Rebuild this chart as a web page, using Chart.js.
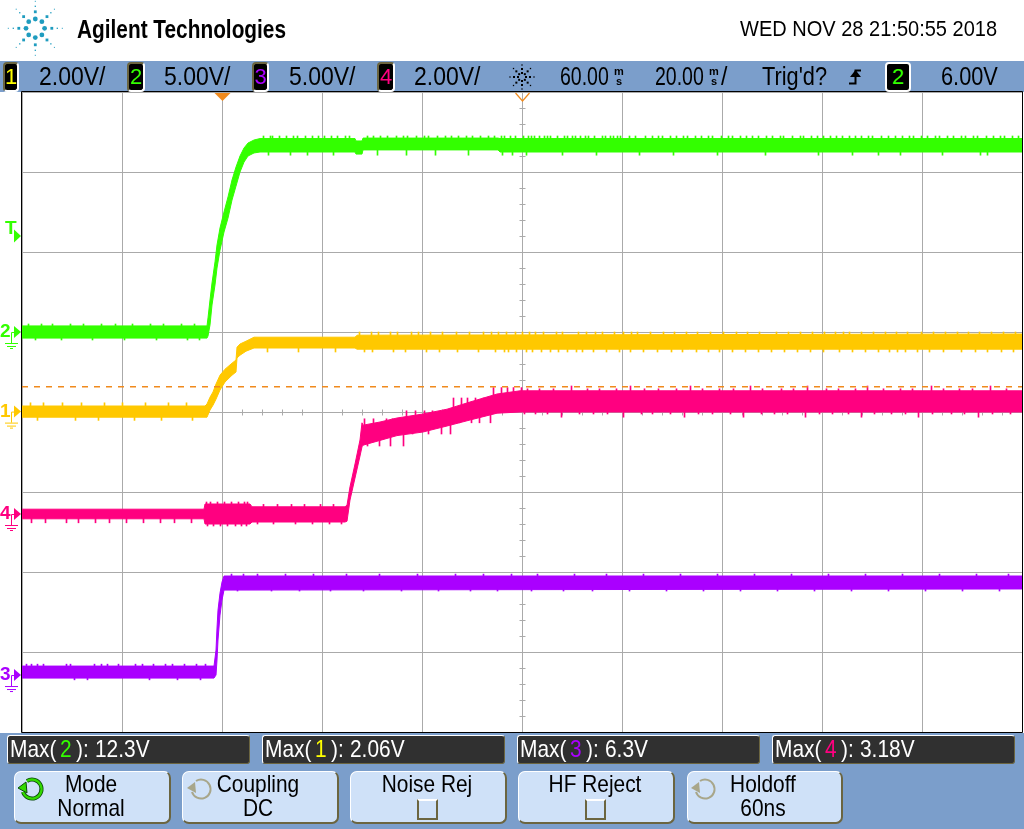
<!DOCTYPE html>
<html>
<head>
<meta charset="utf-8">
<title>Agilent scope capture</title>
<script src="https://cdn.jsdelivr.net/npm/chart.js@4"></script>
<style>
html, body { margin: 0; padding: 0; background: #fff; overflow: hidden; }
#page { position: relative; width: 1024px; height: 829px; overflow: hidden; font-family: "Liberation Sans", sans-serif; color: #000; }
.band { position: absolute; left: 0; width: 1024px; background: #7b9ecb; }
.txt { position: absolute; white-space: nowrap; line-height: 1; transform-origin: 0 50%; }
.chip { position: absolute; top: 62px; height: 26px; background: #000; border: 2px solid #fff; border-top-color: #6b6540; border-left-color: #6b6540; border-radius: 4px; text-align: center; font-size: 22px; line-height: 26px; }
.meas { position: absolute; top: 735px; height: 27px; background: #303030; border: 1px solid #fff; border-right-color: #6b6540; border-bottom-color: #6b6540; border-radius: 3px; }
.key { position: absolute; top: 771px; height: 50px; background: #cfe1f8; border: 1px solid #fff; border-right: 2px solid #6b6540; border-bottom: 2px solid #6b6540; border-radius: 7px; }
.box { position: absolute; top: 799px; width: 17px; height: 17px; border: 2px solid #6b6540; border-top-color: #fff; }
canvas { position: absolute; left: 0; top: 0; }
svg { position: absolute; overflow: visible; }
</style>
</head>
<body>
<div id="page">
<div class="band" style="top:61px;height:31px"></div>
<div class="band" style="top:733px;height:96px"></div>
<canvas id="scope" width="1024" height="829"></canvas>
</div>
<script>
// channel colours and settings
var ch1Color = "#ffc800", ch2Color = "#33ff00", ch3Color = "#aa00ff", ch4Color = "#ff0080";
var orange = "#f08a1d";
var timeMin = -40, timeMax = 160, timeDiv = 20;
var ch1Range = [-8.01, 7.99], ch2Range = [-25, 15], ch3Range = [-3.56, 36.44], ch4Range = [-5.45, 10.55];
var triggerLevel = 6.00, ch4MaxCursor = 3.18;

// envelope of each trace, ms and volts
var ch2Time = [-40,-3.0,-2.8,-2.4,-2.0,-1.4,-1.0,-0.4,0.4,1.2,2.0,2.8,3.6,4.4,5.2,6.4,7.6,26.6,26.8,28.0,28.2,55.2,55.6,160];
var ch2High = [0.38,0.38,0.88,2.0,3.06,4.38,5.44,6.5,7.5,8.44,9.5,10.31,11.0,11.5,11.81,12.0,12.09,12.09,11.94,11.94,12.12,12.12,12.09,12.09];
var ch2Low = [-0.38,-0.38,-0.25,0.44,1.69,2.94,4.0,5.12,6.25,7.12,8.25,9.12,10.0,10.62,11.0,11.19,11.25,11.25,11.12,11.12,11.38,11.38,11.25,11.25];

var ch1Time = [-40,-3.4,-3.0,-2.4,-1.8,-1.2,-0.4,0.6,2.0,2.8,3.0,3.6,4.8,6.4,26.6,27.0,160];
var ch1High = [0.14,0.14,0.19,0.36,0.49,0.69,0.91,1.06,1.21,1.29,1.61,1.69,1.76,1.86,1.86,1.91,1.94];
var ch1Low = [-0.14,-0.14,-0.14,0.04,0.16,0.31,0.54,0.74,0.91,0.99,1.34,1.41,1.51,1.59,1.59,1.56,1.56];

var ch4Time = [-40,-3.6,-3.4,5.6,6,24.6,25,25.6,26.6,27.6,28,28.2,31.6,35,40.2,45,49.6,55,59.6,160];
var ch4High = [0.12,0.12,0.25,0.25,0.18,0.18,0.22,0.68,1.25,1.85,2.28,2.22,2.3,2.4,2.5,2.62,2.8,3.0,3.08,3.08];
var ch4Low = [-0.12,-0.12,-0.25,-0.25,-0.2,-0.2,-0.18,0.35,0.9,1.45,1.68,1.72,1.84,1.96,2.05,2.2,2.35,2.52,2.55,2.55];

var ch3Time = [-40,-1.6,-1.2,-1.0,-0.8,-0.4,0,0.4,160];
var ch3High = [0.56,0.56,1.56,2.94,4.06,5.12,5.81,6.19,6.19];
var ch3Low = [-0.19,-0.19,0,0.94,2.19,3.75,4.69,5.31,5.38];

// noise spikes: [tip volts, [times in ms]]
var ch2Spikes = [
  [0.5, [-38.7,-36.1,-33.9,-30.3,-27.7,-24.1,-21.3,-17.9,-14.3,-11.7,-8.1,-5.5]],
  [-0.5, [-37.3,-32.1,-25.9,-19.5,-13.1,-6.9,-4.5]],
  [12.25, [8.3,9.7,10.1,11.5,12.9,14.3,15.1,16.7,18.1,19.3,20.5,21.9,23.1,24.7,25.5,29.1,30.3,31.7,33.1,34.9,36.3,37.1,38.9,40.5,41.3,43.1,44.7,45.9,47.3,48.9,50.1,51.7,53.3,54.5,55.9,56.5,57.7,58.7,60.3,61.3,61.9,62.5,63.5,64.5,65.1,65.7,67.1,68.5,69.1,70.1,70.7,71.7,72.7,73.3,74.5,76.1,76.7,77.7,78.3,79.1,79.7,81.5,82.7,84.7,86.1,87.3,88.1,89.7,90.9,92.3,93.1,94.7,95.9,97.3,98.1,99.9,101.3,102.1,103.7,104.9,106.1,107.3,108.9,110.1,111.7,112.3,114.1,115.7,116.3,117.9,119.1,120.3,121.7,122.9,124.1,125.5,126.7,127.9,129.3,130.1,131.9,133.3,134.7,136.1,137.5,138.3,139.9,141.1,142.7,143.5,145.1,146.3,147.9,148.7,150.3,151.1,152.9,154.3,155.7,156.5,158.1,159.3]],
  [11.05, [9.3,13.7,17.1,22.3,31.1,36.9,42.7,49.3,56.1,58.1,60.9,68.1,74.9,83.5,90.3,99.1,108.7,119.3,126.1,131.3,135.7,144.1,151.7,153.1]]
];
var ch1Spikes = [
  [0.22, [-38.3,-35.7,-31.9,-28.1,-23.5,-19.9,-15.3,-10.7,-7.1]],
  [-0.22, [-36.9,-29.3,-24.7,-17.5,-12.1,-5.9]],
  [1.99, [27.5,29.9,31.3,33.7,35.1,37.9,39.3,41.7,44.1,46.9,49.5,52.3,53.9,55.3,56.9,58.7,60.1,61.5,62.7,64.3,66.9,68.1,71.3,72.9,74.7,76.1,78.5,80.3,81.9,83.1,85.7,88.3,90.5,92.9,95.1,97.7,100.3,102.9,105.1,107.5,110.9,113.3,115.7,118.1,120.5,122.7,124.3,125.5,127.9,130.3,132.7,134.9,137.1,139.9,142.3,144.7,147.1,149.3,151.5,153.9,156.3,158.7]],
  [1.49, [9.1,15.3,22.7,28.5,30.1,34.3,36.7,40.9,43.5,47.1,51.3,54.7,56.5,57.3,58.9,60.9,62.1,63.9,65.7,67.3,69.1,70.9,72.1,74.3,76.9,79.5,81.7,84.3,87.1,89.9,92.1,94.9,97.3,99.5,102.1,104.7,107.3,109.9,112.5,115.1,117.7,120.3,123.5,126.1,128.7,131.3,133.5,135.1,136.7,139.1,141.5,144.3,147.9,150.7,153.1,155.9,158.3]]
];
var ch4Spikes = [
  [-0.22, [-38.1,-35.3,-31.1,-28.7,-25.3,-22.5,-19.1,-15.7,-12.3,-9.5,-6.1]],
  [0.3, [-3.1,-2.3,-0.9,0.5,1.9,3.3,4.5,5.1]],
  [-0.3, [-2.9,-1.7,-0.3,1.1,2.7,3.9,4.9]],
  [0.24, [8.3,11.1,13.9,16.5,19.7,22.3]],
  [-0.25, [7.1,10.3,14.7,18.1,21.5,23.9]],
  [2.38, [28.5,30.3,32.9,34.1]],
  [1.7, [29.1,31.5,33.7,36.3]],
  [2.58, [36.9,38.7,40.5,42.1,44.3]],
  [2.0, [38.1,41.3,43.9,45.7]],
  [2.9, [46.3,47.9,49.1,50.7,52.3]],
  [2.28, [47.5,49.9,51.5,53.7]],
  [3.16, [54.3,55.9,57.1,58.3,59.9]],
  [3.13, [61.1,63.5,66.3,73.1,75.5,78.9,84.5,87.3,90.9,96.1,99.5,102.3,108.1,111.9,114.3,120.9,123.3,126.7,132.3,135.7,138.1,144.3,147.5,150.1,156.9]],
  [3.2, [69.9,81.7,93.7,105.7,117.1,129.1,141.9,153.7]],
  [2.5, [60.5,62.7,65.1,71.5,74.3,77.1,83.9,86.1,89.7,95.3,98.1,101.7,107.9,110.5,113.1,119.5,122.1,125.3,130.5,133.9,136.7,142.1,145.9,148.5,154.1,157.7]],
  [2.42, [67.9,80.3,92.5,104.3,116.7,127.9,139.3,151.3]]
];
var ch3Spikes = [
  [0.68, [-39.1,-38.1,-36.9,-35.7,-31.1,-30.3,-25.5,-24.1,-22.9,-20.7,-17.3,-15.9,-13.7,-11.3,-9.9,-7.5,-5.1,-3.3]],
  [-0.3, [-29.5,-26.9,-14.5,-8.9,-4.3]],
  [6.31, [1.9,4.3,7.1,12.7,18.3,24.9,31.5,39.1,46.7,52.3,57.9,63.1,70.5,76.9,84.3,91.7,99.1,106.5,113.9,121.3,128.7,136.1,143.5,150.9,157.3]],
  [5.25, [3.1,9.9,15.5,21.7,28.3,35.9,43.3,49.7,55.1,61.9,68.3,74.1,81.5,88.9,96.3,103.7,111.1,118.5,125.9,133.3,140.7,148.1,155.5]]
];

// foot of a spike sits inside the band at that time
function bandMiddle(times, high, low, t) {
  var n = 0;
  for (var i = 0; i < times.length; i++) { if (times[i] <= t) n = i; }
  return (high[n] + low[n]) / 2;
}
function toPoints(times, vals) {
  return times.map(function(t, i) { return {x: t, y: vals[i]}; });
}
function spikeBars(groups, times, high, low) {
  var out = [];
  groups.forEach(function(g) {
    g[1].forEach(function(t) { out.push({x: t, y: [g[0], bandMiddle(times, high, low, t)]}); });
  });
  return out;
}

var datasets = [];
function addTrace(name, axis, color, times, high, low, spikes) {
  datasets.push({type: 'line', label: name + ' high', yAxisID: axis, data: toPoints(times, high), borderColor: color, backgroundColor: color, borderWidth: 1, pointRadius: 0, tension: 0, fill: false});
  datasets.push({type: 'line', label: name + ' low', yAxisID: axis, data: toPoints(times, low), borderColor: color, backgroundColor: color, borderWidth: 1, pointRadius: 0, tension: 0, fill: '-1'});
  datasets.push({type: 'bar', label: name + ' spikes', yAxisID: axis, data: spikeBars(spikes, times, high, low), backgroundColor: color, barThickness: 1, grouped: false, borderWidth: 0, borderSkipped: false});
}
datasets.push({type: 'line', label: 'Max(4)', yAxisID: 'ch4', data: [{x: timeMin, y: ch4MaxCursor}, {x: timeMax, y: ch4MaxCursor}], borderColor: orange, borderWidth: 1.6, borderDash: [6, 6], pointRadius: 0, fill: false});
addTrace('ch2', 'ch2', ch2Color, ch2Time, ch2High, ch2Low, ch2Spikes);
addTrace('ch1', 'ch1', ch1Color, ch1Time, ch1High, ch1Low, ch1Spikes);
addTrace('ch4', 'ch4', ch4Color, ch4Time, ch4High, ch4Low, ch4Spikes);
addTrace('ch3', 'ch3', ch3Color, ch3Time, ch3High, ch3Low, ch3Spikes);

function hiddenAxis(range) {
  return {type: 'linear', display: false, min: range[0], max: range[1]};
}

function groundMark(ctx, y, color, num) {
  ctx.fillStyle = color;
  ctx.strokeStyle = color;
  ctx.lineWidth = 1;
  ctx.font = 'bold 19px "Liberation Sans"';
  ctx.textAlign = 'left';
  ctx.textBaseline = 'middle';
  ctx.fillText(num, 0, y);
  ctx.beginPath(); ctx.moveTo(14, y - 6); ctx.lineTo(21, y); ctx.lineTo(14, y + 6); ctx.closePath(); ctx.fill();
  ctx.beginPath();
  ctx.moveTo(14, y + 0.5); ctx.lineTo(11.5, y + 0.5); ctx.lineTo(11.5, y + 11);
  ctx.moveTo(5, y + 11.5); ctx.lineTo(18, y + 11.5);
  ctx.moveTo(7, y + 14.5); ctx.lineTo(16, y + 14.5);
  ctx.moveTo(10, y + 16.5); ctx.lineTo(13, y + 16.5);
  ctx.stroke();
}

var scopeDeco = {
  id: 'scopeDeco',
  beforeDatasetsDraw: function(chart) {
    var ctx = chart.ctx, sx = chart.scales.x, sd = chart.scales.div;
    var cx = Math.round(sx.getPixelForValue(60)) + 0.5, cy = Math.round(sd.getPixelForValue(4)) + 0.5;
    ctx.save();
    ctx.strokeStyle = '#aaaaaa';
    ctx.lineWidth = 1;
    ctx.beginPath();
    for (var i = 0; i <= 50; i++) {
      var px = Math.round(sx.getPixelForValue(timeMin + i * 4)) + 0.5;
      ctx.moveTo(px, cy - 3); ctx.lineTo(px, cy + 3);
    }
    for (var j = 0; j <= 40; j++) {
      var py = Math.round(sd.getPixelForValue(j / 5)) + 0.5;
      ctx.moveTo(cx - 3, py); ctx.lineTo(cx + 3, py);
    }
    ctx.stroke();
    ctx.restore();
  },
  afterDraw: function(chart) {
    var ctx = chart.ctx, a = chart.chartArea, sx = chart.scales.x;
    ctx.save();
    // frame
    ctx.strokeStyle = '#000';
    ctx.lineWidth = 1;
    ctx.beginPath();
    ctx.moveTo(21.5, a.top - 0.5); ctx.lineTo(a.right + 0.5, a.top - 0.5);
    ctx.moveTo(21.5, a.top - 0.5); ctx.lineTo(21.5, a.bottom + 0.5); ctx.lineTo(a.right + 0.5, a.bottom + 0.5);
    ctx.moveTo(a.right + 0.5, a.top - 0.5); ctx.lineTo(a.right + 0.5, a.bottom + 0.5);
    ctx.stroke();
    // trigger and delay pointers
    var tx = sx.getPixelForValue(0) + 0.5, dx = sx.getPixelForValue(60) + 0.5;
    ctx.fillStyle = orange;
    ctx.beginPath(); ctx.moveTo(tx - 8, a.top + 1); ctx.lineTo(tx + 8, a.top + 1); ctx.lineTo(tx, a.top + 9); ctx.closePath(); ctx.fill();
    ctx.strokeStyle = orange;
    ctx.lineWidth = 1.2;
    ctx.beginPath(); ctx.moveTo(dx - 7, a.top + 1); ctx.lineTo(dx, a.top + 9); ctx.lineTo(dx + 7, a.top + 1); ctx.stroke();
    // channel ground markers
    groundMark(ctx, chart.scales.ch2.getPixelForValue(0), ch2Color, '2');
    groundMark(ctx, chart.scales.ch1.getPixelForValue(0), ch1Color, '1');
    groundMark(ctx, chart.scales.ch4.getPixelForValue(0), ch4Color, '4');
    groundMark(ctx, chart.scales.ch3.getPixelForValue(0), ch3Color, '3');
    // trigger level marker
    var ly = chart.scales.ch2.getPixelForValue(triggerLevel);
    ctx.fillStyle = ch2Color;
    ctx.font = 'bold 19px "Liberation Sans"';
    ctx.textAlign = 'left';
    ctx.textBaseline = 'middle';
    ctx.fillText('T', 5, ly - 7);
    ctx.beginPath(); ctx.moveTo(14, ly - 6.5); ctx.lineTo(21, ly); ctx.lineTo(14, ly + 6.5); ctx.closePath(); ctx.fill();
    ctx.restore();
  }
};

new Chart(document.getElementById('scope').getContext('2d'), {
  type: 'bar',
  data: {datasets: datasets},
  plugins: [scopeDeco],
  options: {
    responsive: false,
    animation: false,
    devicePixelRatio: 1,
    layout: {padding: {left: 22, top: 92, right: 2, bottom: 97}},
    plugins: {legend: {display: false}, title: {display: false}, tooltip: {enabled: false}},
    scales: {
      x: {type: 'linear', min: timeMin, max: timeMax, offset: false,
          grid: {offset: false, color: '#aaaaaa', lineWidth: 1, drawTicks: false},
          border: {display: false},
          ticks: {display: false, stepSize: timeDiv, autoSkip: false}},
      div: {type: 'linear', position: 'left', min: 0, max: 8,
          grid: {color: '#aaaaaa', lineWidth: 1, drawTicks: false},
          border: {display: false},
          ticks: {display: false, stepSize: 1, autoSkip: false}},
      ch1: hiddenAxis(ch1Range),
      ch2: hiddenAxis(ch2Range),
      ch3: hiddenAxis(ch3Range),
      ch4: hiddenAxis(ch4Range)
    }
  }
});

// everything around the graticule
var page = document.getElementById('page');
function txt(s, x, yMid, size, opt) {
  opt = opt || {};
  var d = document.createElement('div');
  var sx = opt.sx || 0.87;
  d.className = 'txt';
  d.textContent = s;
  d.style.left = x + 'px';
  d.style.top = (yMid - size / 2) + 'px';
  d.style.fontSize = size + 'px';
  if (opt.color) d.style.color = opt.color;
  if (opt.bold) d.style.fontWeight = 'bold';
  if (opt.center) {
    d.style.transformOrigin = '50% 50%';
    d.style.transform = 'translateX(-50%) scaleX(' + sx + ')';
  } else {
    d.style.transform = 'scaleX(' + sx + ')';
  }
  page.appendChild(d);
  return d;
}
function chip(num, x, w, color, allWhite) {
  var d = document.createElement('div');
  d.className = 'chip';
  d.textContent = num;
  d.style.left = x + 'px';
  d.style.width = w + 'px';
  d.style.color = color;
  if (allWhite) d.style.borderColor = '#fff';
  page.appendChild(d);
}
function svgEl(html) {
  var w = document.createElement('div');
  w.innerHTML = html;
  page.appendChild(w.firstChild);
}
function starburst(cx, cy, color, rings) {
  var s = '<svg style="left:0;top:0" width="1024" height="829">';
  rings.forEach(function(r) {
    for (var k = 0; k < r.n; k++) {
      var an = k * 2 * Math.PI / r.n;
      var x = cx + r.r * Math.sin(an), y = cy - r.r * Math.cos(an);
      s += '<rect x="' + (x - r.s / 2) + '" y="' + (y - r.s / 2) + '" width="' + r.s + '" height="' + r.s + '" rx="' + (r.round ? r.s / 2 : 0) + '" fill="' + color + '"/>';
    }
  });
  svgEl(s + '</svg>');
}
function rotary(x, y, color, edge) {
  svgEl('<svg style="left:' + x + 'px;top:' + y + 'px" width="28" height="26">' +
    '<path d="M9 4 A 9.5 9.5 0 1 1 5 15" fill="none" stroke="' + (edge || color) + '" stroke-width="' + (edge ? 4 : 2) + '"/>' +
    (edge ? '<path d="M9 4 A 9.5 9.5 0 1 1 5 15" fill="none" stroke="' + color + '" stroke-width="2.4"/>' : '') +
    '<path d="M0 11 L8 5 L9 16 Z" fill="' + color + '"' + (edge ? ' stroke="' + edge + '"' : '') + '/></svg>');
}

// header
starburst(35.3, 28.3, '#1f9cbf', [
  {n: 8, r: 9.3, s: 4.8, round: true},
  {n: 8, r: 16.5, s: 2.8},
  {n: 8, r: 22, s: 1.3},
  {n: 8, r: 27, s: 1}
]);
txt('Agilent Technologies', 77, 29, 25, {bold: true, sx: 0.833});
txt('WED NOV 28 21:50:55 2018', 740, 29, 22, {sx: 0.91});

chip('1', 3, 12, '#ffff00');
chip('2', 127, 14, '#33ff00');
chip('3', 252, 13, '#aa00ff');
chip('4', 377, 14, '#ff0080');
chip('2', 885, 22, '#33ff00', true);

txt('2.00V/', 39, 76, 25, {sx: 0.92});
txt('5.00V/', 164, 76, 25, {sx: 0.92});
txt('5.00V/', 289, 76, 25, {sx: 0.92});
txt('2.00V/', 414, 76, 25, {sx: 0.92});
starburst(522, 77, '#000', [
  {n: 8, r: 4, s: 2},
  {n: 8, r: 8, s: 2},
  {n: 8, r: 12, s: 1.3}
]);
txt('60.00', 560, 76, 25, {sx: 0.78});
txt('m', 614, 71, 11, {bold: true, sx: 1});
txt('s', 616, 81, 11, {bold: true, sx: 1});
txt('20.00', 655, 76, 25, {sx: 0.78});
txt('m', 709, 71, 11, {bold: true, sx: 1});
txt('s', 711, 81, 11, {bold: true, sx: 1});
txt('/', 721, 76, 25, {sx: 0.92});
txt("Trig'd?", 762, 76, 25);
svgEl('<svg style="left:846px;top:64px" width="18" height="26"><path d="M3 19.5 H9.5 V6.5 H15" fill="none" stroke="#000" stroke-width="2"/><path d="M4 13 L9.5 6 L15 13 Z" fill="#000"/></svg>');
txt('6.00V', 941, 76, 25);

// measurements
[[7, 241], [262, 241], [517, 241], [772, 241]].forEach(function(b) {
  var d = document.createElement('div');
  d.className = 'meas';
  d.style.left = b[0] + 'px';
  d.style.width = b[1] + 'px';
  page.appendChild(d);
});
function meas(x, num, color, val) {
  txt('Max(', x, 749, 24, {color: '#fff'});
  txt(num, x + 50, 749, 24, {color: color});
  txt('):', x + 66, 749, 24, {color: '#fff'});
  txt(val, x + 85, 749, 24, {color: '#fff'});
}
meas(10, '2', '#33ff00', '12.3V');
meas(265, '1', '#ffff00', '2.06V');
meas(520, '3', '#aa00ff', '6.3V');
meas(775, '4', '#ff0080', '3.18V');

// softkeys
[[14, 154], [182, 154], [350, 154], [518, 154], [687, 153]].forEach(function(k) {
  var d = document.createElement('div');
  d.className = 'key';
  d.style.left = k[0] + 'px';
  d.style.width = k[1] + 'px';
  page.appendChild(d);
});
rotary(18, 777, '#33d900', '#0a4a0a');
rotary(187, 777, '#a8a68a');
rotary(691, 777, '#a8a68a');
txt('Mode', 91, 784, 24, {center: true});
txt('Normal', 91, 808, 24, {center: true});
txt('Coupling', 258, 784, 24, {center: true});
txt('DC', 258, 808, 24, {center: true});
txt('Noise Rej', 427, 784, 24, {center: true});
txt('HF Reject', 595, 784, 24, {center: true});
txt('Holdoff', 763, 784, 24, {center: true});
txt('60ns', 763, 808, 24, {center: true});
[417, 585].forEach(function(x) {
  var d = document.createElement('div');
  d.className = 'box';
  d.style.left = x + 'px';
  page.appendChild(d);
});
</script>
</body>
</html>
